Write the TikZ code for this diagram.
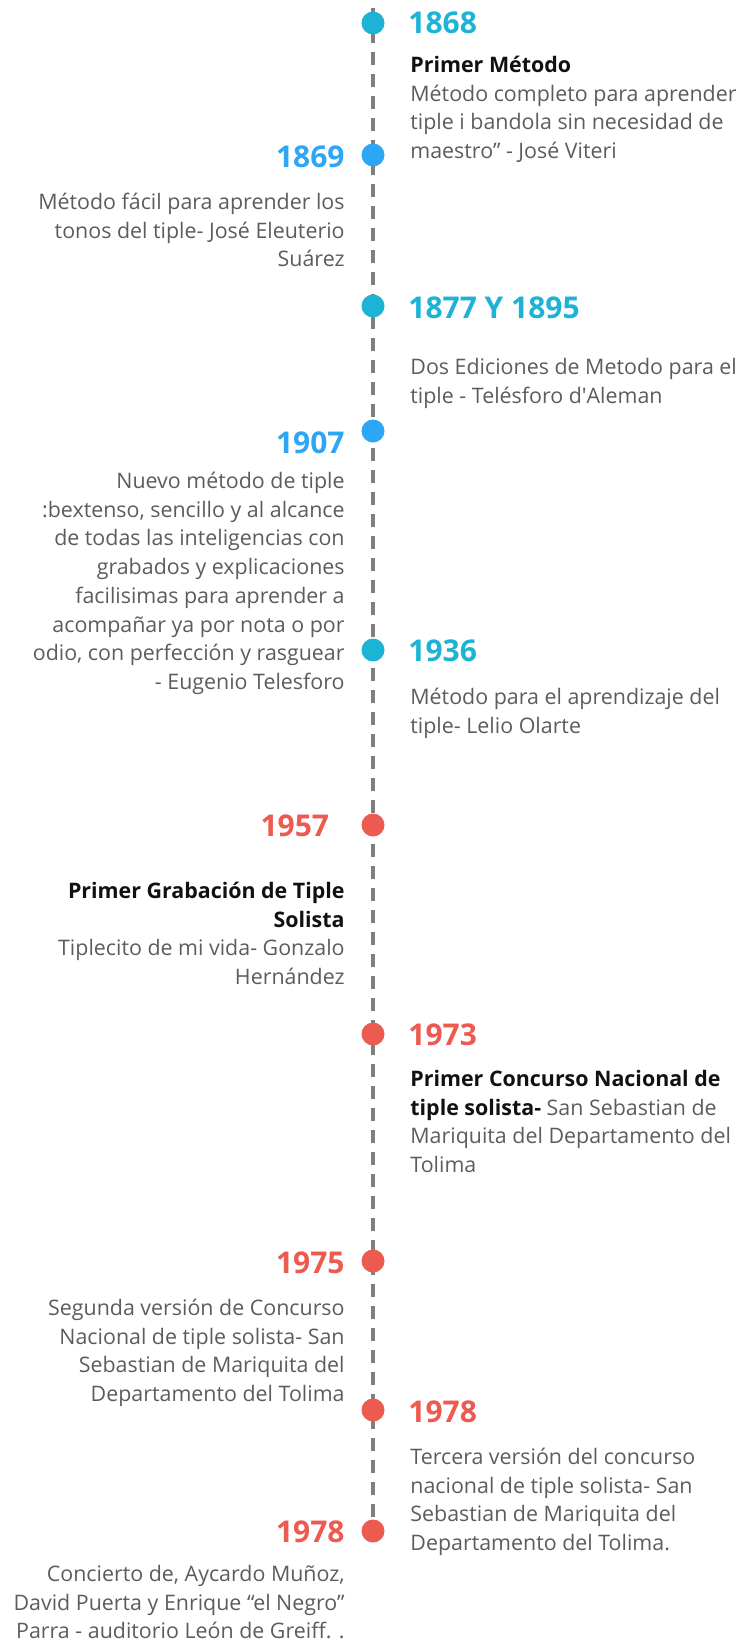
\documentclass[tikz,border=0pt]{standalone}
\usepackage{fontspec}
\setmainfont{Open Sans}
\usetikzlibrary{positioning}

\definecolor{tealblue}{HTML}{1DB3D4}
\definecolor{skyblue}{HTML}{2CA6F5}
\definecolor{coral}{HTML}{EC5A50}
\definecolor{bodygray}{HTML}{5C5C5C}
\definecolor{dashgray}{HTML}{7F7F7F}
\definecolor{titleblack}{HTML}{111111}

\tikzset{
  dot/.style={circle, fill=#1, minimum size=23pt, inner sep=0pt},
  year/.style={font=\fontsize{30}{32}\selectfont\bfseries, text=#1, inner sep=0pt},
  body/.style={font=\fontsize{21.4}{28.7}\selectfont, text=bodygray, inner sep=0pt, align=#1},
  timeline/.style={draw=dashgray, line width=4pt, dash pattern=on 13pt off 9pt}
}
\newcommand{\ttl}[1]{\textcolor{titleblack}{\bfseries #1}}

\begin{document}
\begin{tikzpicture}[x=1pt,y=-1pt]
\useasboundingbox (0,0) rectangle (743,1643);

% timeline axis
\coordinate (top) at (373,8);
\coordinate (bottom) at (373,1531);
\draw[timeline] (top) -- (bottom);

% dots
\node[dot=tealblue] (d1) at (373,23) {};
\node[dot=skyblue] (d2) at (373,155) {};
\node[dot=tealblue] (d3) at (373,306) {};
\node[dot=skyblue] (d4) at (373,431) {};
\node[dot=tealblue] (d5) at (373,650) {};
\node[dot=coral] (d6) at (373,825) {};
\node[dot=coral] (d7) at (373,1034) {};
\node[dot=coral] (d8) at (373,1261) {};
\node[dot=coral] (d9) at (373,1410) {};
\node[dot=coral] (d10) at (bottom) {};

% years
\node[year=tealblue, right=23.5pt of d1] (y1) {1868};
\node[year=skyblue, left=16.5pt of d2, yshift=-2pt] (y2) {1869};
\node[year=tealblue, right=23.5pt of d3, yshift=-2pt] (y3) {1877 Y 1895};
\node[year=skyblue, left=16.5pt of d4, yshift=-12pt] (y4) {1907};
\node[year=tealblue, right=23.5pt of d5, yshift=-1pt] (y5) {1936};
\node[year=coral, left=32pt of d6, yshift=-1pt] (y6) {1957};
\node[year=coral, right=23.5pt of d7, yshift=-1pt] (y7) {1973};
\node[year=coral, left=16.5pt of d8, yshift=-2pt] (y8) {1975};
\node[year=coral, right=23.5pt of d9, yshift=-2pt] (y9) {1978};
\node[year=coral, left=16.5pt of d10, yshift=-1pt] (y10) {1978};

% texts
\node[body=left, below=18pt of y1.south west, anchor=north west, xshift=2pt] (t1)
  {\strut\ttl{Primer Método}\\Método completo para aprender\\tiple i bandola sin necesidad de\\maestro” - José Viteri};
\node[body=right, below=21pt of y2.south east, anchor=north east] (t2)
  {\strut Método fácil para aprender los\\tonos del tiple- José Eleuterio\\Suárez};
\node[body=left, below=35pt of y3.south west, anchor=north west, xshift=2pt] (t3)
  {\strut Dos Ediciones de Metodo para el\\tiple - Telésforo d\textquotesingle Aleman};
\node[body=right, below=14pt of y4.south east, anchor=north east] (t4)
  {\strut Nuevo método de tiple\\:bextenso, sencillo y al alcance\\de todas las inteligencias con\\grabados y explicaciones\\facilisimas para aprender a\\acompañar ya por nota o por\\odio, con perfección y rasguear\\- Eugenio Telesforo};
\node[body=left, below=22pt of y5.south west, anchor=north west, xshift=2pt] (t5)
  {\strut Método para el aprendizaje del\\tiple- Lelio Olarte};
\node[body=right, below=41pt of y6.south east, anchor=north east, xshift=15.5pt] (t6)
  {\strut\ttl{Primer Grabación de Tiple}\\\ttl{Solista}\\Tiplecito de mi vida- Gonzalo\\Hernández};
\node[body=left, below=20pt of y7.south west, anchor=north west, xshift=2pt] (t7)
  {\strut\ttl{Primer Concurso Nacional de}\\\ttl{tiple solista-} San Sebastian de\\Mariquita del Departamento del\\Tolima};
\node[body=right, below=21pt of y8.south east, anchor=north east] (t8)
  {\strut Segunda versión de Concurso\\Nacional de tiple solista- San\\Sebastian de Mariquita del\\Departamento del Tolima};
\node[body=left, below=21pt of y9.south west, anchor=north west, xshift=2pt] (t9)
  {\strut Tercera versión del concurso\\nacional de tiple solista- San\\Sebastian de Mariquita del\\Departamento del Tolima.};
\node[body=right, below=18pt of y10.south east, anchor=north east] (t10)
  {\strut Concierto de, Aycardo Muñoz,\\David Puerta y Enrique “el Negro”\\Parra - auditorio León de Greiff. .};
\end{tikzpicture}
\end{document}
